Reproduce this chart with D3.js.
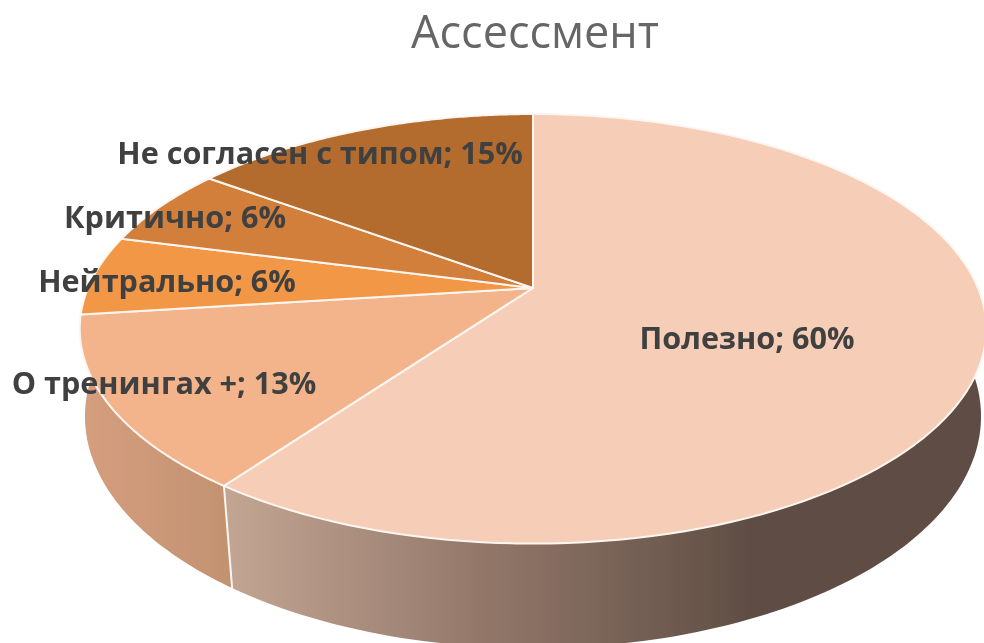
<!DOCTYPE html>
<html>
<head>
<meta charset="utf-8">
<script src="https://cdn.jsdelivr.net/npm/d3@7"></script>
<style>
  html, body { margin: 0; padding: 0; background: #fff; overflow: hidden; }
</style>
</head>
<body>
<div id="chart"></div>
<script>
const chartTitle = "Ассессмент";
const categories = ["Полезно", "О тренингах +", "Нейтрально", "Критично", "Не согласен с типом"];
const percents = [60, 13, 6, 6, 15];
const topColors = ["#f6cdb6", "#f3b48c", "#f29744", "#d17f3a", "#b36c2f"];

const width = 984, height = 643;

// perspective pie, fitted on the picture. top face and bottom rim differ a bit
const topRing = {x: 533, y: 288, a: 445, b: 207, k: 0.19};
const lowRing = {x: 533, y: 377, a: 441.5, b: 225, k: 0.17};

// label centres, as Excel placed them
const labelPos = [[747, 341], [164, 386], [167, 284], [175, 220], [320, 156]];

const svg = d3.select("#chart")
  .append("svg")
    .attr("width", width)
    .attr("height", height);

const defs = svg.append("defs");

const soft = defs.append("filter").attr("id", "soft")
  .attr("x", "-5%").attr("y", "-5%").attr("width", "110%").attr("height", "110%");
soft.append("feGaussianBlur").attr("stdDeviation", 0.7);

const grad0 = defs.append("linearGradient").attr("id", "wall0")
  .attr("gradientUnits", "userSpaceOnUse")
  .attr("x1", 232).attr("x2", 750).attr("y1", 0).attr("y2", 0);
grad0.append("stop").attr("offset", 0).attr("stop-color", "#c2a492");
grad0.append("stop").attr("offset", 0.5).attr("stop-color", "#917668");
grad0.append("stop").attr("offset", 1).attr("stop-color", "#5f4e45");

const grad1 = defs.append("linearGradient").attr("id", "wall1")
  .attr("gradientUnits", "userSpaceOnUse")
  .attr("x1", 85).attr("x2", 232).attr("y1", 0).attr("y2", 0);
grad1.append("stop").attr("offset", 0).attr("stop-color", "#d59e7e");
grad1.append("stop").attr("offset", 1).attr("stop-color", "#c29270");

const pie = d3.pie().sort(null).value(d => d);
const arcs = pie(percents);

// angle on the disc to a point on the picture
function project(a, r) {
  const u = Math.sin(a), v = -Math.cos(a);
  const w = 1 - r.k * v;
  return [r.x + r.a * u / w, r.y + r.b * v / w];
}

function ring(a0, a1, r) {
  return d3.range(0, 121).map(i => project(a0 + (a1 - a0) * i / 120, r));
}

const line = d3.line();
const g = svg.append("g").attr("filter", "url(#soft)");

// side walls, started behind the top face so the ends stay hidden
const wallSpans = [
  {from: Math.PI * 0.4, to: arcs[0].endAngle, fill: "url(#wall0)"},
  {from: arcs[1].startAngle, to: Math.PI * 1.6, fill: "url(#wall1)"}
];
g.selectAll("path.wall")
  .data(wallSpans)
  .enter().append("path")
  .attr("class", "wall")
  .attr("fill", d => d.fill)
  .attr("d", d => line(ring(d.from, d.to, topRing).concat(ring(d.from, d.to, lowRing).reverse())) + "Z");

// white seam on the wall between the two slices
g.append("path")
  .attr("fill", "none")
  .attr("stroke", "#fdf6f0")
  .attr("stroke-width", 2)
  .attr("d", line([project(arcs[0].endAngle, topRing), project(arcs[0].endAngle, lowRing)]));

// top faces
g.selectAll("path.slice")
  .data(arcs)
  .enter().append("path")
  .attr("class", "slice")
  .attr("fill", (d, i) => topColors[i])
  .attr("stroke", "#fdf6f0")
  .attr("stroke-width", 2)
  .attr("stroke-linejoin", "round")
  .attr("d", d => line([[topRing.x, topRing.y]].concat(ring(d.startAngle, d.endAngle, topRing))) + "Z");

g.append("text")
  .attr("x", 535)
  .attr("y", 48)
  .attr("text-anchor", "middle")
  .style("font-family", "'Open Sans'")
  .style("font-size", "45px")
  .style("fill", "#666666")
  .text(chartTitle);

g.selectAll("text.label")
  .data(categories)
  .enter().append("text")
  .attr("class", "label")
  .attr("x", (d, i) => labelPos[i][0])
  .attr("y", (d, i) => labelPos[i][1])
  .attr("text-anchor", "middle")
  .attr("dominant-baseline", "middle")
  .style("font-family", "'Open Sans'")
  .style("font-weight", 700)
  .style("font-size", "30.6px")
  .style("fill", "#404040")
  .text((d, i) => d + "; " + percents[i] + "%");
</script>
</body>
</html>
